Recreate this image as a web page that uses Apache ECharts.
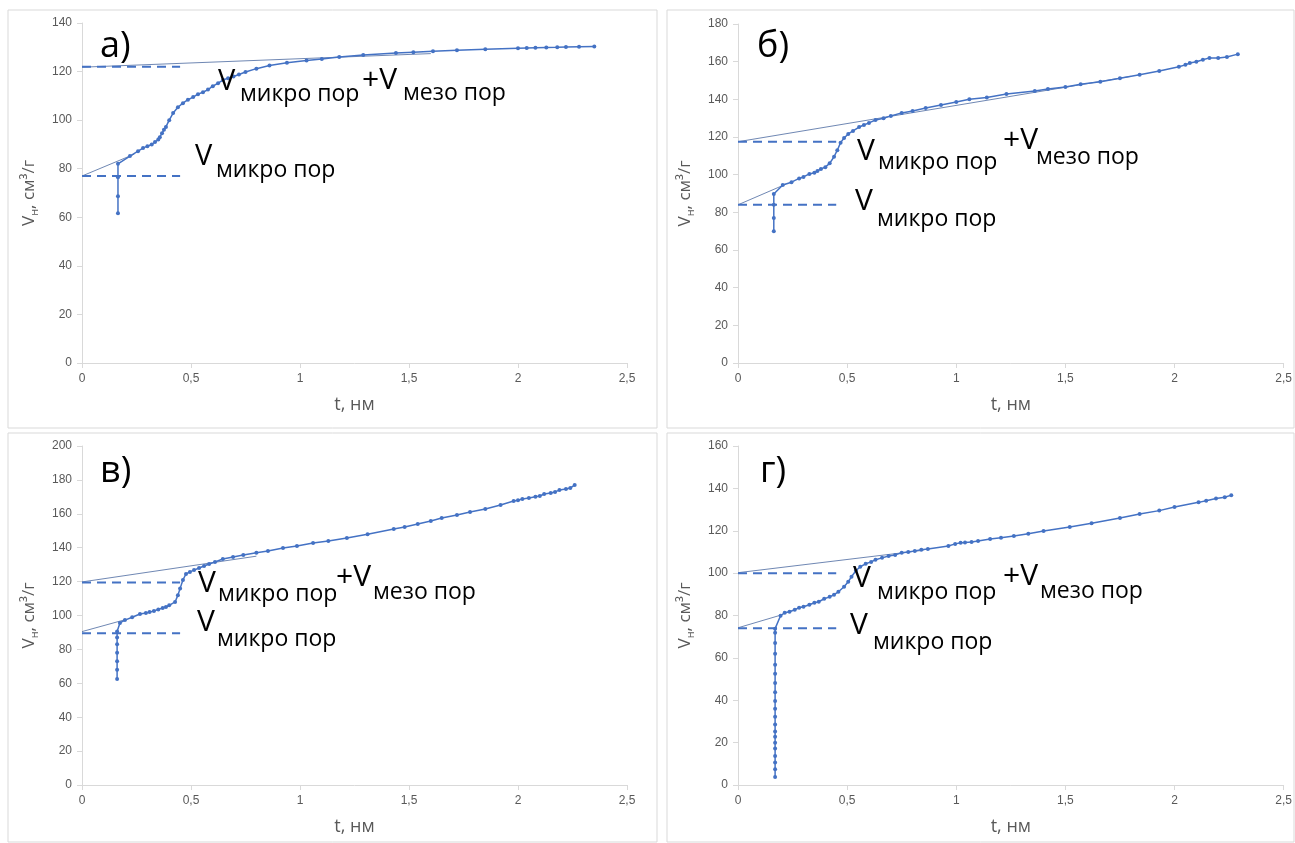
<!DOCTYPE html>
<html>
<head>
<meta charset="utf-8">
<script src="https://cdn.jsdelivr.net/npm/echarts@6/dist/echarts.min.js"></script>
<style>
  html, body { margin: 0; padding: 0; background: #fff; }
  #main { width: 1295px; height: 843px; }
</style>
</head>
<body>
<div id="main"></div>
<script>
// ---- data ----
// panel а
var tA = [0.165, 0.165, 0.165, 0.165, 0.22, 0.257, 0.28, 0.30, 0.32, 0.335, 0.35, 0.357, 0.367, 0.376, 0.385, 0.40, 0.418, 0.44, 0.463, 0.486, 0.51, 0.532, 0.555, 0.578, 0.60, 0.624, 0.647, 0.67, 0.695, 0.72, 0.75, 0.80, 0.86, 0.94, 1.03, 1.10, 1.18, 1.29, 1.44, 1.52, 1.61, 1.72, 1.85, 2.0, 2.04, 2.08, 2.13, 2.18, 2.22, 2.28, 2.35];
var vA = [61.7, 68.7, 76.5, 82, 85.2, 87.2, 88.5, 89.3, 90, 91, 92, 93, 94.6, 96, 97.2, 100, 102.9, 105.3, 107, 108.4, 109.5, 110.7, 111.5, 112.6, 114, 115.2, 116.5, 117.3, 118, 118.8, 119.8, 121.2, 122.5, 123.6, 124.6, 125.2, 126, 126.8, 127.6, 128, 128.4, 128.8, 129.2, 129.6, 129.7, 129.8, 129.9, 130, 130.1, 130.2, 130.3];
// panel б
var tB = [0.164, 0.164, 0.164, 0.164, 0.205, 0.245, 0.28, 0.30, 0.327, 0.35, 0.364, 0.38, 0.40, 0.42, 0.44, 0.455, 0.47, 0.486, 0.505, 0.527, 0.555, 0.577, 0.60, 0.63, 0.667, 0.70, 0.75, 0.80, 0.86, 0.93, 1.0, 1.06, 1.14, 1.23, 1.36, 1.42, 1.5, 1.57, 1.66, 1.75, 1.84, 1.93, 2.02, 2.05, 2.07, 2.1, 2.13, 2.16, 2.2, 2.24, 2.29];
var vB = [70, 77, 84, 89.7, 94.5, 96, 98, 98.8, 100.4, 101, 102, 103, 104, 106, 109.5, 113, 117, 119.5, 121.6, 123.2, 125.3, 126.4, 127.5, 129, 130, 131.2, 132.8, 133.8, 135.4, 137, 138.6, 140, 141, 142.8, 144.4, 145.5, 146.6, 148, 149.3, 151.2, 153, 155, 157.3, 158.3, 159.3, 160, 161, 162, 162, 162.5, 164];
// panel в
var tC = [0.161, 0.161, 0.161, 0.161, 0.161, 0.161, 0.161, 0.174, 0.197, 0.23, 0.266, 0.293, 0.31, 0.33, 0.35, 0.37, 0.385, 0.40, 0.427, 0.44, 0.45, 0.463, 0.477, 0.495, 0.514, 0.537, 0.56, 0.583, 0.61, 0.646, 0.693, 0.74, 0.80, 0.853, 0.922, 0.986, 1.06, 1.13, 1.215, 1.31, 1.43, 1.48, 1.54, 1.6, 1.65, 1.72, 1.78, 1.85, 1.92, 1.98, 2.0, 2.02, 2.05, 2.08, 2.1, 2.12, 2.15, 2.17, 2.19, 2.22, 2.24, 2.26];
var vC = [62.5, 68, 73, 78, 83, 87, 90.5, 95.6, 97.3, 99, 100.9, 101.5, 102, 102.7, 103.6, 104.4, 105, 106, 108, 112, 116, 121, 124.5, 125.7, 126.8, 128, 129.2, 130.4, 131.6, 133.3, 134.5, 135.7, 137, 138, 139.8, 141, 142.8, 144, 145.7, 148, 151, 152.2, 154, 155.8, 157.5, 159.3, 161, 162.8, 165.2, 167.5, 168, 168.7, 169.3, 170, 170.5, 171.7, 172.3, 172.9, 174, 174.6, 175.2, 177];
// panel г
var tD = [0.17, 0.17, 0.17, 0.17, 0.17, 0.17, 0.17, 0.17, 0.17, 0.17, 0.17, 0.17, 0.17, 0.17, 0.17, 0.17, 0.17, 0.17, 0.17, 0.17, 0.195, 0.214, 0.236, 0.26, 0.28, 0.30, 0.327, 0.35, 0.37, 0.395, 0.42, 0.44, 0.46, 0.486, 0.505, 0.52, 0.54, 0.56, 0.585, 0.61, 0.63, 0.66, 0.69, 0.72, 0.75, 0.78, 0.81, 0.84, 0.87, 0.964, 0.995, 1.02, 1.04, 1.07, 1.1, 1.155, 1.205, 1.264, 1.33, 1.4, 1.52, 1.62, 1.75, 1.84, 1.93, 2.0, 2.11, 2.145, 2.19, 2.23, 2.26];
var vD = [3.8, 7.4, 10.6, 13.7, 17.2, 20, 22.8, 25.2, 28.6, 32.2, 36, 39.6, 43.8, 48.2, 52.5, 56.8, 62, 67, 71.8, 73.8, 79.9, 81.3, 81.8, 82.7, 83.7, 84.1, 85.1, 86, 86.5, 87.9, 88.8, 89.8, 91.2, 93.6, 95.9, 98.3, 101.1, 103, 104.4, 105.3, 106.3, 107.2, 108.1, 108.6, 109.6, 110, 110.5, 111, 111.4, 112.8, 113.8, 114.3, 114.4, 114.7, 115.2, 116.1, 116.7, 117.5, 118.6, 119.9, 121.8, 123.5, 126, 127.9, 129.5, 131.2, 133.4, 134.2, 135.2, 135.8, 136.8];

// tangent lines [t, V] and horizontal levels (V micro, V micro+meso)
var tangUpA = [[0, 121.8], [1.6, 127.4]], tangLoA = [[0, 77], [0.24, 86]];
var tangUpB = [[0, 117.5], [1.8, 152.2]], tangLoB = [[0, 84], [0.22, 95]];
var tangUpC = [[0, 119.8], [0.8, 135]], tangLoC = [[0, 90.5], [0.2, 97.6]];
var tangUpD = [[0, 100.2], [0.85, 110.8]], tangLoD = [[0, 74.2], [0.2, 80.3]];
var levelsA = [122, 77], levelsB = [117.5, 84], levelsC = [119.5, 89.5], levelsD = [100, 74];
var dashEnd = 0.45;

var yMax = [140, 180, 200, 160];
var letters = ['а)', 'б)', 'в)', 'г)'];

// ---- layout ----
var blue = '#4472C4';
var panels = [
  { t: tA, v: vA, up: tangUpA, lo: tangLoA, lev: levelsA, grid: { left: 82, top: 23, width: 545, height: 340 } },
  { t: tB, v: vB, up: tangUpB, lo: tangLoB, lev: levelsB, grid: { left: 738, top: 24, width: 550, height: 339 } },
  { t: tC, v: vC, up: tangUpC, lo: tangLoC, lev: levelsC, grid: { left: 82, top: 446, width: 545, height: 339 } },
  { t: tD, v: vD, up: tangUpD, lo: tangLoD, lev: levelsD, grid: { left: 738, top: 446, width: 550, height: 339 } }
];

// annotation text positions: [text, x, yCenter, fontSize]
var annot = [
  [['V', 218, 82, 29], ['микро пор', 240, 94, 23], ['+V', 362, 80, 30], ['мезо пор', 403, 93, 23],
   ['V', 195, 157, 29], ['микро пор', 216, 170, 23]],
  [['V', 857, 151, 30], ['микро пор', 878, 162, 23], ['+V', 1003, 140, 30], ['мезо пор', 1036, 157, 23],
   ['V', 855, 201, 30], ['микро пор', 877, 219, 23]],
  [['V', 198, 583, 30], ['микро пор', 218, 594, 23], ['+V', 336, 577, 30], ['мезо пор', 373, 592, 23],
   ['V', 197, 622, 30], ['микро пор', 217, 639, 23]],
  [['V', 853, 578, 30], ['микро пор', 877, 592, 23], ['+V', 1003, 576, 30], ['мезо пор', 1040, 591, 23],
   ['V', 850, 625, 30], ['микро пор', 873, 642, 23]]
];
var letterPos = [[100, 47], [757, 47], [100, 472], [760, 472]];
var frames = [[8, 10, 649, 418], [667, 10, 627, 418], [8, 433, 649, 409], [667, 433, 627, 409]];

var grids = [], xAxes = [], yAxes = [], series = [], graphic = [];

panels.forEach(function (p, i) {
  grids.push(p.grid);
  xAxes.push({
    type: 'value', gridIndex: i, min: 0, max: 2.5, interval: 0.5,
    name: 't, нм', nameLocation: 'middle', nameGap: 33,
    nameTextStyle: { color: '#595959', fontSize: 18, fontFamily: 'Open Sans' },
    axisLine: { show: true, onZero: false, lineStyle: { color: '#d9d9d9' } },
    axisTick: { show: true, length: 5, lineStyle: { color: '#d9d9d9' } },
    splitLine: { show: false },
    axisLabel: {
      color: '#595959', fontSize: 12, fontFamily: 'Liberation Sans', margin: 10,
      formatter: function (val) { return String(val).replace('.', ','); }
    }
  });
  yAxes.push({
    type: 'value', gridIndex: i, min: 0, max: yMax[i], interval: 20,
    name: '{v|V}{s|н}{v|, см³/г}', nameLocation: 'middle', nameGap: 42, nameRotate: 90,
    nameTextStyle: {
      rich: {
        v: { color: '#595959', fontSize: 17, fontFamily: 'Open Sans', lineHeight: 22 },
        s: { color: '#595959', fontSize: 11, fontFamily: 'Open Sans', lineHeight: 10, verticalAlign: 'bottom' }
      }
    },
    axisLine: { show: true, lineStyle: { color: '#d9d9d9' } },
    axisTick: { show: true, length: 5, lineStyle: { color: '#d9d9d9' } },
    splitLine: { show: false },
    axisLabel: { color: '#595959', fontSize: 12, fontFamily: 'Liberation Sans', margin: 10 }
  });

  var pts = p.t.map(function (t, k) { return [t, p.v[k]]; });
  series.push({
    type: 'line', xAxisIndex: i, yAxisIndex: i, data: pts,
    symbol: 'circle', symbolSize: 4, z: 5,
    lineStyle: { color: blue, width: 1.5 }, itemStyle: { color: blue }
  });
  [p.up, p.lo].forEach(function (seg) {
    series.push({
      type: 'line', xAxisIndex: i, yAxisIndex: i, data: seg, symbol: 'none', z: 4,
      lineStyle: { color: '#4a68a0', width: 0.8 }
    });
  });
  p.lev.forEach(function (lv) {
    series.push({
      type: 'line', xAxisIndex: i, yAxisIndex: i, data: [[0, lv], [dashEnd, lv]], symbol: 'none', z: 4,
      lineStyle: { color: blue, width: 2, type: [9, 6] }
    });
  });

  var f = frames[i];
  graphic.push({
    type: 'rect', shape: { x: f[0], y: f[1], width: f[2], height: f[3] }, z: -10,
    style: { fill: '#fff', stroke: '#d9d9d9', lineWidth: 1 }
  });
  graphic.push({
    type: 'text', x: letterPos[i][0], y: letterPos[i][1], z: 10,
    style: { text: letters[i], font: '36px "Open Sans"', fill: '#000', verticalAlign: 'middle' }
  });
  annot[i].forEach(function (a) {
    graphic.push({
      type: 'text', x: a[1], y: a[2], z: 10,
      style: { text: a[0], font: a[3] + 'px "Open Sans"', fill: '#000', verticalAlign: 'middle' }
    });
  });
});

var chart = echarts.init(document.getElementById('main'));
chart.setOption({
  backgroundColor: '#fff',
  animation: false,
  grid: grids,
  xAxis: xAxes,
  yAxis: yAxes,
  series: series,
  graphic: graphic
});
</script>
</body>
</html>
